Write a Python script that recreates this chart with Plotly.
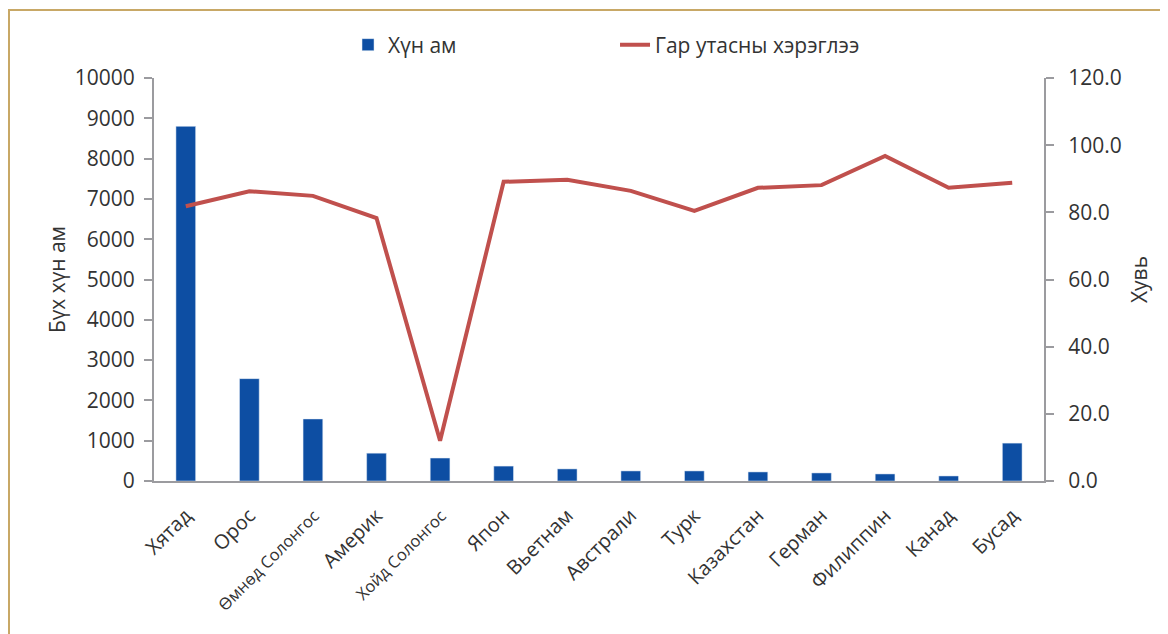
import plotly.graph_objects as go

countries = ["Хятад", "Орос", "Өмнөд Солонгос", "Америк", "Хойд Солонгос", "Япон",
             "Вьетнам", "Австрали", "Турк", "Казахстан", "Герман", "Филиппин",
             "Канад", "Бусад"]
population = [8800, 2540, 1540, 690, 570, 370, 300, 250, 250, 225, 200, 175, 125, 940]
phone_use = [81.8, 86.3, 84.9, 78.3, 12.0, 89.1, 89.7, 86.4, 80.4, 87.3, 88.1, 96.8, 87.3, 88.8]

left_ticks = list(range(0, 10001, 1000))
right_ticks = [0, 20, 40, 60, 80, 100, 120]

small = {"Өмнөд Солонгос", "Хойд Солонгос"}
tick_text = [f"<span style='font-size:16.5px'>{c}</span>" if c in small else c for c in countries]

AXIS = "#9b9b9f"
FONT = "Open Sans, DejaVu Sans, sans-serif"

# plot area in figure pixels
L, R, T, B = 146, 132, 70, 161
PW, PH = 1168 - L - R, 634 - T - B

fig = go.Figure()

fig.add_trace(
    go.Bar(
        x=countries,
        y=population,
        name="Хүн ам",
        marker=dict(color="#0d4ea3"),
    )
)

fig.add_trace(
    go.Scatter(
        x=countries,
        y=phone_use,
        name="Гар утасны хэрэглээ",
        mode="lines",
        line=dict(color="#c0504d", width=4),
        yaxis="y2",
    )
)

fig.update_layout(
    width=1168,
    height=634,
    margin=dict(l=L, r=R, t=T, b=B, autoexpand=False),
    paper_bgcolor="white",
    plot_bgcolor="white",
    font=dict(family=FONT, size=21, color="#333333"),
    bargap=0.69,
    showlegend=True,
    legend=dict(
        orientation="h",
        x=0.218, y=(PH + T - 37) / PH, xanchor="left", yanchor="middle",
        entrywidth=222,
        font=dict(size=21, color="#333333"),
        traceorder="normal",
    ),
    xaxis=dict(
        tickmode="array",
        tickvals=countries,
        ticktext=tick_text,
        tickangle=-45,
        tickfont=dict(size=20),
        ticklabelstandoff=13,
        showline=True,
        linecolor=AXIS,
        linewidth=2,
        ticks="",
        showgrid=False,
    ),
    yaxis=dict(
        title=dict(text="Бүх хүн ам", font=dict(size=21), standoff=3),
        range=[0, 10000],
        tickvals=left_ticks,
        tickformat="d",
        ticklabelstandoff=5,
        showline=True,
        linecolor=AXIS,
        linewidth=2,
        ticks="outside",
        tickcolor=AXIS,
        ticklen=8,
        tickwidth=2,
        showgrid=False,
        zeroline=False,
    ),
    yaxis2=dict(
        title=dict(text="Хувь", font=dict(size=21), standoff=12),
        overlaying="y",
        side="right",
        range=[0, 120],
        tickvals=right_ticks,
        tickformat=".1f",
        ticklabelstandoff=10,
        showline=True,
        linecolor=AXIS,
        linewidth=2,
        ticks="outside",
        tickcolor=AXIS,
        ticklen=8,
        tickwidth=2,
        showgrid=False,
        zeroline=False,
    ),
    shapes=[
        dict(
            type="rect", xref="paper", yref="paper",
            x0=(1 - L) / PW, x1=1.3, y0=-1.0, y1=(PH + T - 2) / PH,
            line=dict(color="#c8a866", width=2),
            fillcolor="rgba(0,0,0,0)",
            layer="below",
        )
    ],
)

fig.write_html("out.html")
